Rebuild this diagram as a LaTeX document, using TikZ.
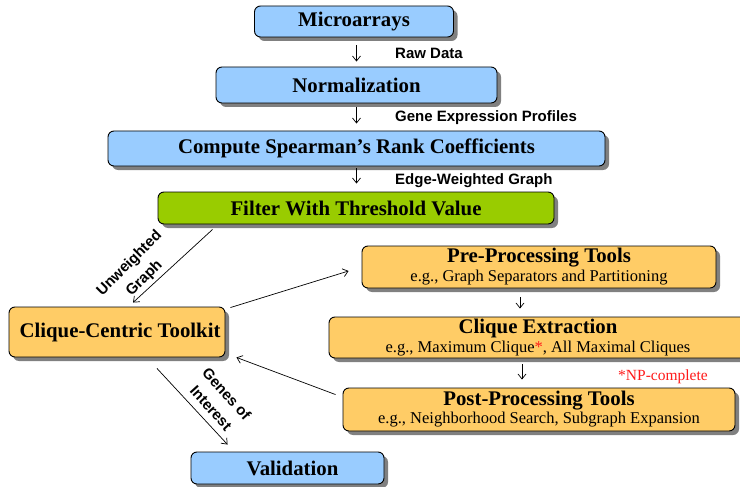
\documentclass[tikz,border=0pt]{standalone}
\usepackage{fontspec}
\setmainfont{Liberation Serif}
\setsansfont{Liberation Sans}
\usetikzlibrary{arrows.meta,shadows,calc}
\definecolor{boxblue}{HTML}{99CCFF}
\definecolor{boxorange}{HTML}{FFCC66}
\definecolor{boxgreen}{HTML}{99CC00}
\definecolor{npred}{HTML}{FF1A1A}
\definecolor{shadowgray}{HTML}{808080}
\newcommand{\ttl}{\fontsize{20.8}{21}\selectfont\bfseries}
\newcommand{\sbt}{\fontsize{16.5}{20}\selectfont\mdseries}
\newcommand{\npf}{\fontsize{15.5}{18}\selectfont\mdseries}
\newcommand{\lbl}{\fontsize{15}{18}\selectfont\sffamily\bfseries}
\tikzset{
  box/.style={draw=black, line width=0.9pt, rounded corners=6pt, inner sep=0pt, align=center,
    drop shadow={shadow xshift=4pt, shadow yshift=-4pt, fill=shadowgray, opacity=1}},
  bluebox/.style={box, fill=boxblue},
  orangebox/.style={box, fill=boxorange},
  greenbox/.style={box, fill=boxgreen},
  arr/.style={draw=black, line width=0.7pt, -{Straight Barb[length=5pt,width=8pt]}},
  flowlabel/.style={font=\lbl, inner sep=0pt, anchor=west},
  rotlabel/.style={font=\lbl, inner sep=0pt, align=center},
}
\begin{document}
\begin{tikzpicture}[x=1pt,y=-1pt]
\useasboundingbox (0,0) rectangle (740,487);
% main pipeline boxes
\node[bluebox, minimum width=199pt, minimum height=31pt] (micro) at (354,21.5) {\ttl Microarrays};
\node[bluebox, minimum width=281pt, minimum height=36pt] (norm) at (356.5,85) {\ttl Normalization};
\node[bluebox, minimum width=497pt, minimum height=35pt] (spear) at (356.5,148.5) {\ttl Compute Spearman's Rank Coefficients};
\node[greenbox, minimum width=396pt, minimum height=32pt] (filter) at (356,208) {\ttl Filter With Threshold Value};
\node[orangebox, minimum width=216pt, minimum height=50pt] (ckt) at (117,332) {\ttl\hspace*{6pt}Clique-Centric Toolkit};
\node[orangebox, minimum width=354pt, minimum height=42pt] (pre) at (539,267)
  {\ttl Pre-Processing Tools\\[2pt]\sbt e.g., Graph Separators and Partitioning};
\node[orangebox, minimum width=418pt, minimum height=41pt] (ce) at (538,337.5)
  {\ttl Clique Extraction\\[2pt]\sbt e.g., Maximum Clique{\color{npred}*}, All Maximal Cliques};
\node[orangebox, minimum width=392pt, minimum height=43pt] (post) at (539,409.5)
  {\ttl Post-Processing Tools\\[1pt]\sbt e.g., Neighborhood Search, Subgraph Expansion};
\node[bluebox, minimum width=193pt, minimum height=32pt] (val) at (287.5,468) {\ttl\hspace*{10pt}Validation};
% vertical arrows
\draw[arr, shorten <=8pt, shorten >=5pt] (micro.south -| spear.south) -- (norm.north -| spear.south);
\draw[arr, shorten <=4pt, shorten >=7pt] (norm.south -| spear.south) -- (spear.north -| spear.south);
\draw[arr, shorten <=2pt, shorten >=8pt] (spear.south) -- (filter.north -| spear.south);
\node[flowlabel] (l1) at (395,53) {Raw Data};
\node[flowlabel] (l2) at (395,118) {Gene Expression Profiles};
\node[flowlabel] (l3) at (395,181) {Edge-Weighted Graph};
% toolkit connectors
\draw[arr] ($(filter.south west)+(55,5)$) -- ($(ckt.north)+(16,-4)$);
\draw[arr] ($(ckt.north east)+(5,1)$) -- ($(pre.west)+(-13,4)$);
\draw[arr] ($(post.north west)+(-7,7)$) -- ($(ckt.south east)+(11,0)$);
\draw[arr] ($(ckt.south)+(40,11)$) -- ($(val.north west)+(37,-7)$);
\draw[arr, shorten <=9pt, shorten >=8pt] ($(pre.south)+(-19,0)$) -- ($(ce.north)+(-18,0)$);
\draw[arr, shorten <=6pt, shorten >=8pt] ($(ce.south)+(-16,0)$) -- ($(post.north)+(-17,0)$);
\node[rotlabel, rotate=45] (l4) at (137,271) {Unweighted\\[3pt]Graph};
\node[rotlabel, rotate=-48] (l5) at (219,401) {Genes of\\[3pt]Interest};
\node[font=\npf, text=npred, inner sep=0pt] (np) at (663,377) {*NP-complete};
\end{tikzpicture}
\end{document}
